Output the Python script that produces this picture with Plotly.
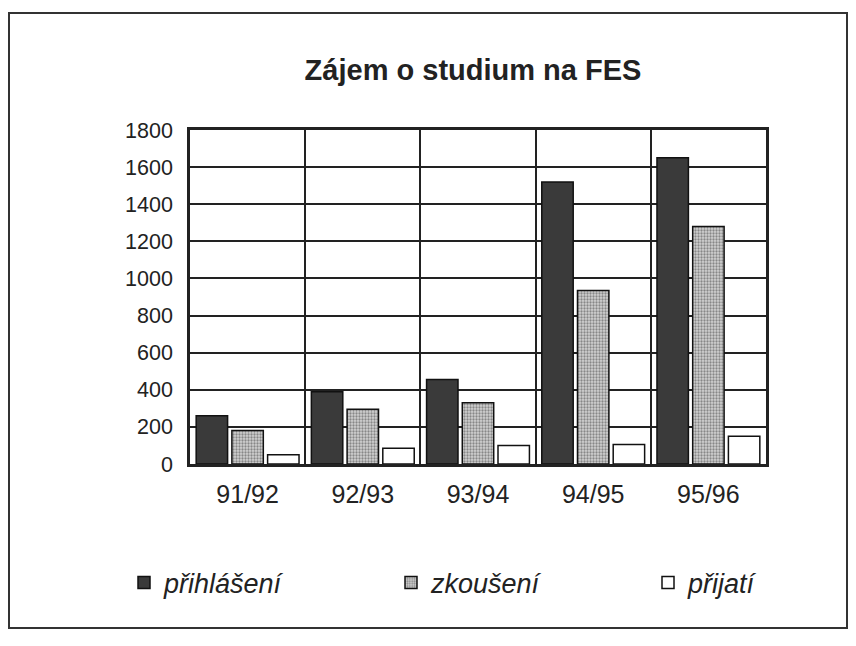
import plotly.graph_objects as go

categories = ["91/92", "92/93", "93/94", "94/95", "95/96"]
prihlaseni = [260, 390, 455, 1520, 1650]
zkouseni = [180, 295, 330, 935, 1280]
prijati = [50, 85, 100, 105, 150]
series_names = ["přihlášení", "zkoušení", "přijatí"]
y_ticks = [0, 200, 400, 600, 800, 1000, 1200, 1400, 1600, 1800]

# page body has an 8px margin; figure coordinates = screen - 8
W, H = 840, 630
L, T = 182, 122
R = W - 758
B = H - 456
pw, ph = W - L - R, H - T - B

def px_x(x):
    return (x - L) / pw

def px_y(y):
    return (H - B - y) / ph

fig = go.Figure()
fig.add_trace(go.Bar(x=categories, y=prihlaseni, name=series_names[0], legend="legend",
                     marker=dict(color="#3a3a3a", line=dict(color="#111", width=1.5))))
fig.add_trace(go.Bar(x=categories, y=zkouseni, name=series_names[1], legend="legend",
                     marker=dict(color="#bdbdbd", line=dict(color="#111", width=1.5),
                                 pattern=dict(shape=".", fgcolor="#3c3c3c", bgcolor="#d2d2d2",
                                              size=3, solidity=0.45))))
fig.add_trace(go.Bar(x=categories, y=prijati, name=series_names[2], legend="legend2",
                     marker=dict(color="white", line=dict(color="#111", width=1.5))))
# invisible trace to drive the vertical separators between categories
fig.add_trace(go.Scatter(x=[None], y=[None], xaxis="x2", showlegend=False, hoverinfo="skip"))

legend_font = dict(size=27, style="italic", family="Liberation Sans, Arial", color="#222")
legend_y = 1 - 575 / H

fig.update_layout(
    width=W, height=H,
    margin=dict(l=L, r=R, t=T, b=B),
    paper_bgcolor="white", plot_bgcolor="white",
    barmode="group", bargap=0.07, bargroupgap=0.12,
    title=dict(text="<b>Zájem o studium na FES</b>", xref="container", x=465 / W, xanchor="center",
               yref="container", y=1 - 62 / H, yanchor="middle",
               font=dict(family="Liberation Sans, Arial", size=29, color="#222")),
    font=dict(family="Liberation Sans, Arial", color="#222"),
    xaxis=dict(type="category", showgrid=False, showline=True, linecolor="#222", linewidth=2.5,
               mirror=True, ticks="", tickfont=dict(size=25), ticklabelstandoff=6),
    xaxis2=dict(overlaying="x", range=[-0.5, 4.5], tick0=0.5, dtick=1, showgrid=True,
                gridcolor="#222", gridwidth=1.5, showticklabels=False, ticks="",
                zeroline=False, showline=False),
    yaxis=dict(range=[0, 1800], tickvals=y_ticks, showgrid=True, gridcolor="#222", gridwidth=1.5,
               showline=True, linecolor="#222", linewidth=2.5, mirror=True, zeroline=False,
               ticks="", tickfont=dict(size=21.5), ticklabelstandoff=10),
    legend=dict(orientation="h", xref="container", x=116 / W, xanchor="left",
                yref="container", y=legend_y, yanchor="middle", font=legend_font,
                entrywidth=222, entrywidthmode="pixels", traceorder="normal",
                bgcolor="rgba(0,0,0,0)"),
    legend2=dict(orientation="h", xref="container", x=640 / W, xanchor="left",
                 yref="container", y=legend_y, yanchor="middle", font=legend_font,
                 bgcolor="rgba(0,0,0,0)"),
    shapes=[dict(type="rect", xref="paper", yref="paper",
                 x0=px_x(1), x1=px_x(839), y0=px_y(620), y1=px_y(5),
                 line=dict(color="#333", width=2), layer="below")],
)

fig.write_html("out.html")
